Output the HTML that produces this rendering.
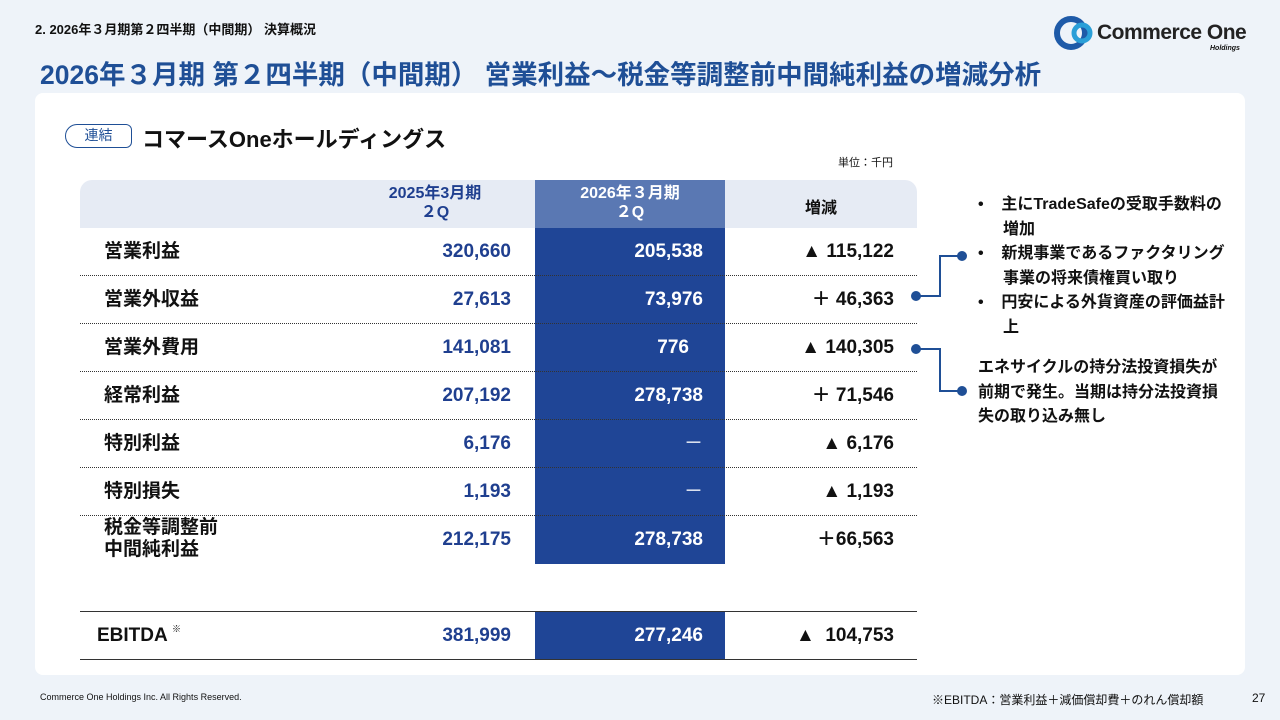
<!DOCTYPE html>
<html><head><meta charset="utf-8"><style>
*{margin:0;padding:0;box-sizing:border-box}
body{width:1280px;height:720px;background:#eef3f9;font-family:"Liberation Sans","Noto Sans CJK JP",sans-serif;position:relative;overflow:hidden;color:#111}
.a{position:absolute}
.card{left:35px;top:93px;width:1210px;height:582px;background:#fff;border-radius:8px}
.row{position:absolute;left:80px;width:837px;height:48px;font-size:19px;font-weight:bold}
.row span{position:absolute;top:0;height:48px;line-height:48px;white-space:nowrap}
.row .l{left:24px}
.row .v1{right:406px;color:#1f3f8f}
.row .v2{right:214px;color:#fff}
.row .v3{right:23px}
.sep{position:absolute;left:80px;width:837px;border-top:1px dotted #333}
.note{font-size:16px;font-weight:bold;line-height:24.5px}
</style></head><body>
<div class="a" style="left:35px;top:19px;font-size:13px;font-weight:bold">2. 2026年３月期第２四半期（中間期） 決算概況</div>
<div class="a" style="left:40px;top:53px;font-size:26.5px;font-weight:bold;color:#1f4f96;white-space:nowrap">2026年３月期 第２四半期（中間期） 営業利益～税金等調整前中間純利益の増減分析</div>
<div class="a" style="left:1054px;top:16px;width:200px;height:34px">
<svg width="44" height="34" style="position:absolute;left:0;top:0"><circle cx="17" cy="17" r="14" fill="none" stroke="#1e5aa8" stroke-width="6"/><circle cx="28" cy="17" r="8" fill="none" stroke="#2a9fd8" stroke-width="5"/></svg>
<div class="a" style="left:43px;top:5px;font-size:21px;font-weight:bold;color:#222;white-space:nowrap;letter-spacing:-0.5px">Commerce One</div>
<div class="a" style="left:156px;top:29px;font-size:7px;font-style:italic;font-weight:bold">Holdings</div>
</div>
<div class="a card"></div>
<div class="a" style="left:65px;top:124px;width:67px;height:24px;border:1.5px solid #1f4f96;border-radius:12px 6px 6px 12px;font-size:14px;color:#1f4f96;text-align:center;line-height:21px">連結</div>
<div class="a" style="left:142px;top:122px;font-size:22px;font-weight:bold">コマースOneホールディングス</div>
<div class="a" style="left:838px;top:154px;font-size:11px">単位：千円</div>
<div class="a" style="left:80px;top:180px;width:837px;height:48px;background:#e6ebf4;border-radius:12px 12px 0 0"></div>
<div class="a" style="left:535px;top:180px;width:190px;height:384px;background:#1f4596"></div>
<div class="a" style="left:535px;top:612px;width:190px;height:48px;background:#1f4596"></div>
<div class="a" style="left:535px;top:180px;width:190px;height:48px;background:#5a78b3;color:#fff;font-size:16px;font-weight:bold;text-align:center;line-height:19px;padding-top:4px">2026年３月期<br>２Q</div>
<div class="a" style="left:340px;top:180px;width:190px;height:48px;color:#1f3f8f;font-size:16px;font-weight:bold;text-align:center;line-height:19px;padding-top:4px">2025年3月期<br>２Q</div>
<div class="a" style="left:725px;top:194px;width:192px;text-align:center;font-size:16px;font-weight:bold">増減</div>

<div class="row" style="top:228px"><span class="l">営業利益</span><span class="v1">320,660</span><span class="v2">205,538</span><span class="v3">▲ 115,122</span></div>
<div class="sep" style="top:275px"></div>
<div class="row" style="top:276px"><span class="l">営業外収益</span><span class="v1">27,613</span><span class="v2">73,976</span><span class="v3">＋ 46,363</span></div>
<div class="sep" style="top:323px"></div>
<div class="row" style="top:324px"><span class="l">営業外費用</span><span class="v1">141,081</span><span class="v2" style="right:228px">776</span><span class="v3">▲ 140,305</span></div>
<div class="sep" style="top:371px"></div>
<div class="row" style="top:372px"><span class="l">経常利益</span><span class="v1">207,192</span><span class="v2">278,738</span><span class="v3">＋ 71,546</span></div>
<div class="sep" style="top:419px"></div>
<div class="row" style="top:420px"><span class="l">特別利益</span><span class="v1">6,176</span><span class="v2" style="font-weight:normal">－</span><span class="v3">▲ 6,176</span></div>
<div class="sep" style="top:467px"></div>
<div class="row" style="top:468px"><span class="l">特別損失</span><span class="v1">1,193</span><span class="v2" style="font-weight:normal">－</span><span class="v3">▲ 1,193</span></div>
<div class="sep" style="top:515px"></div>
<div class="row" style="top:516px"><span class="l" style="top:1px;height:46px;line-height:22px">税金等調整前<br>中間純利益</span><span class="v1">212,175</span><span class="v2">278,738</span><span class="v3">＋66,563</span></div>
<div class="a" style="left:80px;top:611px;width:837px;border-top:1px solid #333"></div>
<div class="row" style="top:612px"><span class="l" style="left:17px">EBITDA</span><span style="left:92px;top:-7px;font-size:9px">※</span><span class="v1">381,999</span><span class="v2">277,246</span><span class="v3">▲&nbsp; 104,753</span></div>
<div class="a" style="left:80px;top:659px;width:837px;border-top:1px solid #333"></div>

<svg class="a" style="left:905px;top:240px" width="70" height="170">
<polyline points="57,16 35,16 35,56 11,56" fill="none" stroke="#1f4f96" stroke-width="2"/>
<circle cx="57" cy="16" r="5" fill="#1f4f96"/><circle cx="11" cy="56" r="5" fill="#1f4f96"/>
<polyline points="11,109 35,109 35,151 57,151" fill="none" stroke="#1f4f96" stroke-width="2"/>
<circle cx="11" cy="109" r="5" fill="#1f4f96"/><circle cx="57" cy="151" r="5" fill="#1f4f96"/>
</svg>
<div class="a note" style="left:978px;top:193px;width:248px">
<div style="padding-left:25px;text-indent:-25px">•&nbsp;&nbsp;&nbsp;&nbsp;主にTradeSafeの受取手数料の増加</div>
<div style="padding-left:25px;text-indent:-25px">•&nbsp;&nbsp;&nbsp;&nbsp;新規事業であるファクタリング事業の将来債権買い取り</div>
<div style="padding-left:25px;text-indent:-25px">•&nbsp;&nbsp;&nbsp;&nbsp;円安による外貨資産の評価益計上</div>
</div>
<div class="a note" style="left:978px;top:356px;width:256px">エネサイクルの持分法投資損失が<br>前期で発生。当期は持分法投資損<br>失の取り込み無し</div>
<div class="a" style="left:40px;top:692px;font-size:9px">Commerce One Holdings Inc. All Rights Reserved.</div>
<div class="a" style="left:932px;top:691px;font-size:12px">※EBITDA：営業利益＋減価償却費＋のれん償却額</div>
<div class="a" style="left:1252px;top:691px;font-size:12px">27</div>
</body></html>
